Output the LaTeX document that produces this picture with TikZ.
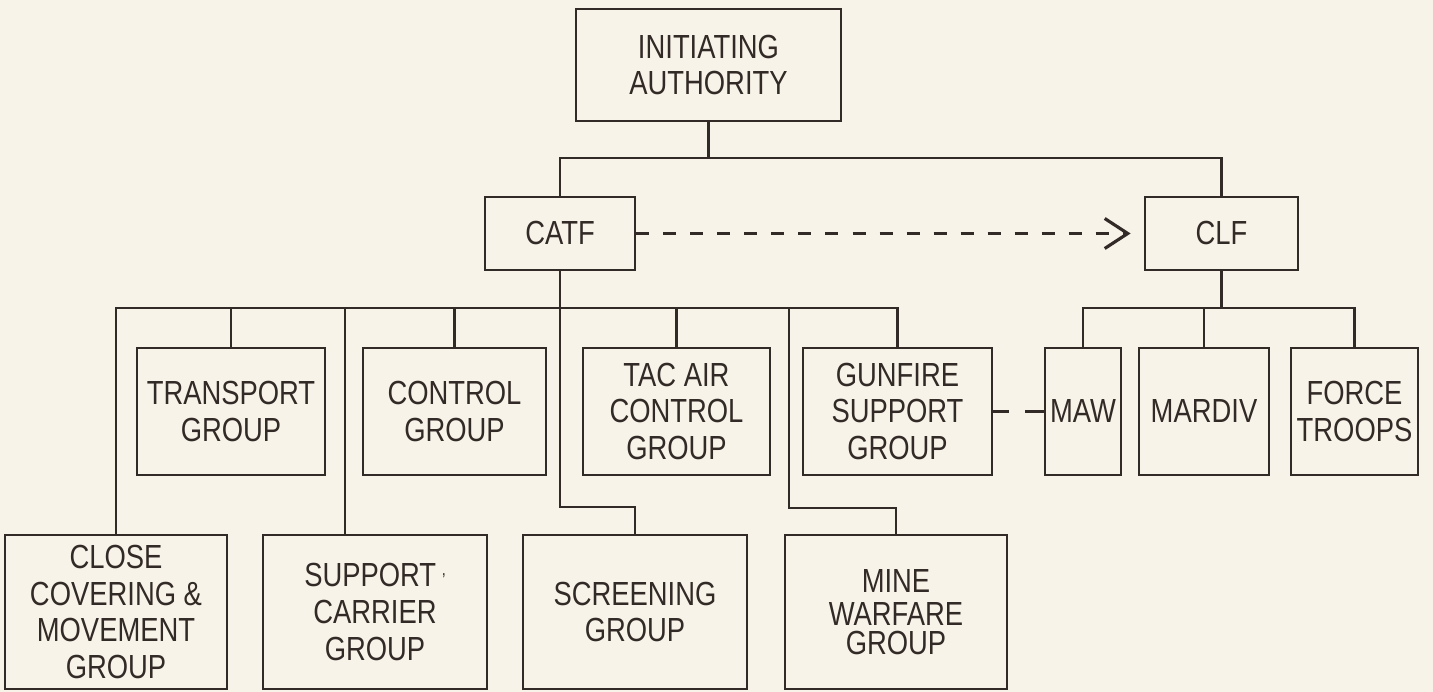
\documentclass[tikz,border=0pt]{standalone}
\usepackage{fontspec}
\setmainfont{Liberation Sans}[FakeStretch=0.82]
\usepackage{tikz}
\usetikzlibrary{shapes,arrows,arrows.meta,positioning}
\definecolor{paper}{RGB}{248,243,233}
\definecolor{ink}{RGB}{50,42,38}

\begin{document}
\begin{tikzpicture}[x=0.01cm,y=-0.01cm,
  unit/.style={draw=ink,line width=0.75pt,align=center,inner sep=0pt,text=ink,
    font=\fontsize{9.5}{10.5}\selectfont},
  link/.style={draw=ink,line width=0.6pt}]
\fill[paper] (0,0) rectangle (1433,692);
\useasboundingbox (0,0) rectangle (1433,692);
% command level
\node[unit,minimum width=2.65cm,minimum height=1.12cm] (init) at (708.5,65) {INITIATING\\AUTHORITY};
\node[unit,minimum width=1.50cm,minimum height=0.73cm] (catf) at (560,233.5) {CATF};
\node[unit,minimum width=1.53cm,minimum height=0.73cm] (clf) at (1221.5,233.5) {CLF};
% groups, upper row
\node[unit,minimum width=1.88cm,minimum height=1.27cm] (transport) at (231,411.5) {TRANSPORT\\GROUP};
\node[unit,minimum width=1.83cm,minimum height=1.27cm] (control) at (454.5,411.5) {CONTROL\\GROUP};
\node[unit,minimum width=1.87cm,minimum height=1.27cm] (tacair) at (676.5,411.5) {TAC AIR\\CONTROL\\GROUP};
\node[unit,minimum width=1.89cm,minimum height=1.27cm] (gunfire) at (897.5,411.5) {GUNFIRE\\SUPPORT\\GROUP};
\node[unit,minimum width=0.76cm,minimum height=1.27cm] (maw) at (1083,411.5) {MAW};
\node[unit,minimum width=1.30cm,minimum height=1.27cm] (mardiv) at (1204,411.5) {MARDIV};
\node[unit,minimum width=1.27cm,minimum height=1.27cm] (force) at (1354.5,411.5) {FORCE\\TROOPS};
% groups, lower row
\node[unit,minimum width=2.22cm,minimum height=1.54cm] (close) at (116,612) {CLOSE\\COVERING \&\\MOVEMENT\\GROUP};
\node[unit,minimum width=2.24cm,minimum height=1.54cm] (suppcar) at (375,612) {SUPPORT\,\raisebox{0.6ex}{\tiny,}\\CARRIER\\GROUP};
\node[unit,minimum width=2.24cm,minimum height=1.54cm] (screening) at (635,612) {SCREENING\\GROUP};
\node[unit,minimum width=2.22cm,minimum height=1.54cm] (mine) at (896,612) {MINE\\[-1pt]WARFARE\\[-2.5pt]GROUP};
% buses
\coordinate (topbus) at (708.5,158);
\coordinate (cbus) at (560,308);
\coordinate (lbus) at (1221.5,308);
\coordinate (sctap) at (345,308);
\coordinate (mtap) at (789,308);
\coordinate (jog1) at (560,507);
\coordinate (jog2) at (789,508);
\draw[link] (init.south) -- (topbus);
\draw[link] (catf.north) |- (topbus) -| (clf.north);
\draw[link] (catf.south) -- (cbus);
\draw[link] (close.north) |- (gunfire.north |- cbus) -- (gunfire.north);
\draw[link] (transport.north) -- (transport.north |- cbus);
\draw[link] (control.north) -- (control.north |- cbus);
\draw[link] (tacair.north) -- (tacair.north |- cbus);
\draw[link] (sctap) -- (sctap |- suppcar.north);
\draw[link] (cbus) -- (jog1) -| (screening.north);
\draw[link] (mtap) -- (jog2) -| (mine.north);
\draw[link] (clf.south) -- (lbus);
\draw[link] (maw.north) |- (force.north |- lbus) -- (force.north);
\draw[link] (mardiv.north) -- (mardiv.north |- lbus);
% dashed ties
\draw[link,line width=0.8pt,dash pattern=on 0.13cm off 0.14cm,shorten >=0.13cm,
  -{Straight Barb[length=0.23cm,width=0.3cm,line width=0.9pt]}] (catf.east) -- (clf.west);
\draw[link,line width=0.8pt,dash pattern=on 0.16cm off 0.16cm on 0.25cm] (gunfire.east) -- (maw.west);
\end{tikzpicture}
\end{document}
